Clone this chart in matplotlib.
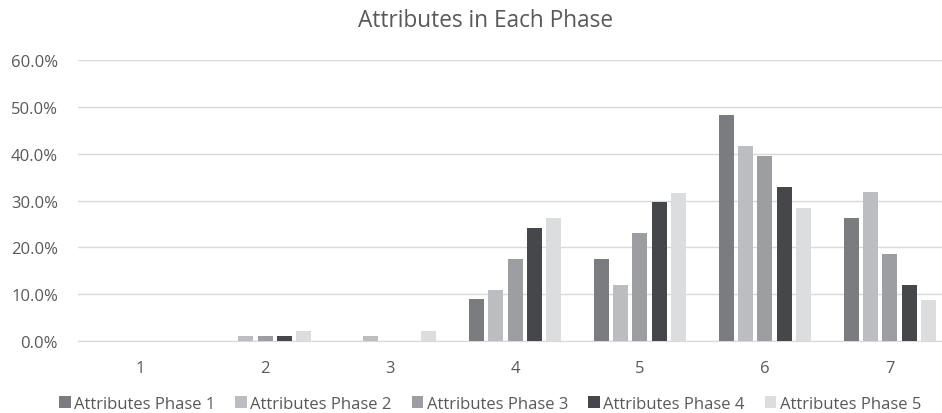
import matplotlib.pyplot as plt
import numpy as np

categories = ["1", "2", "3", "4", "5", "6", "7"]
phase1 = [0.0, 0.0, 0.0, 8.9, 17.5, 48.2, 26.3]
phase2 = [0.0, 1.1, 1.1, 10.9, 12.0, 41.6, 31.8]
phase3 = [0.0, 1.1, 0.0, 17.5, 23.0, 39.4, 18.6]
phase4 = [0.0, 1.1, 0.0, 24.1, 29.6, 32.9, 12.0]
phase5 = [0.0, 2.2, 2.2, 26.2, 31.7, 28.5, 8.8]
series_names = ["Attributes Phase 1", "Attributes Phase 2", "Attributes Phase 3",
                "Attributes Phase 4", "Attributes Phase 5"]
colors = ["#7b7c80", "#bcbdc0", "#9d9ea2", "#46474a", "#dcdddf"]

plt.rcParams["font.family"] = ["Open Sans", "DejaVu Sans"]
text_color = "#595959"

fig = plt.figure(figsize=(9.42, 4.14), dpi=100)
# plot area runs a little past the right edge of the picture
ax = fig.add_axes([77.5 / 942, 72 / 414, (942 - 77.5) / 942, 281 / 414])

x = np.arange(1, len(categories) + 1)
pitch = 0.1544
width = 0.12
all_series = [phase1, phase2, phase3, phase4, phase5]
for i, (vals, name, col) in enumerate(zip(all_series, series_names, colors)):
    ax.bar(x + (i - 2) * pitch, vals, width, color=col, label=name, zorder=3)

ax.set_xlim(0.5, 0.5 + (942 - 77.5) / 125)
ax.set_ylim(0, 60)
ax.set_yticks(np.arange(0, 61, 10))
ax.set_yticklabels([f"{v:.1f}%" for v in np.arange(0, 61, 10)])
ax.set_xticks(x)
ax.set_xticklabels(categories)
ax.grid(axis="y", color="#d9d9d9", linewidth=1, zorder=0)
for s in ["top", "right", "left"]:
    ax.spines[s].set_visible(False)
ax.spines["bottom"].set_color("#d9d9d9")
ax.tick_params(axis="both", length=0, colors=text_color, labelsize=12)
ax.tick_params(axis="y", pad=14)
ax.tick_params(axis="x", pad=14)

# title sits over the whole (uncropped) chart, a bit right of the picture centre
fig.text(485 / 942, 1 - 21 / 414, "Attributes in Each Phase", ha="center", va="center",
         fontsize=16.3, color=text_color)

fig.legend(loc="center", bbox_to_anchor=(490 / 942, 1 - 405 / 414), ncol=5, frameon=False,
           fontsize=12, labelcolor=text_color, handlelength=0.7, handleheight=0.7,
           handletextpad=0.2, columnspacing=1.2)

fig.savefig("out.png", dpi=100)
